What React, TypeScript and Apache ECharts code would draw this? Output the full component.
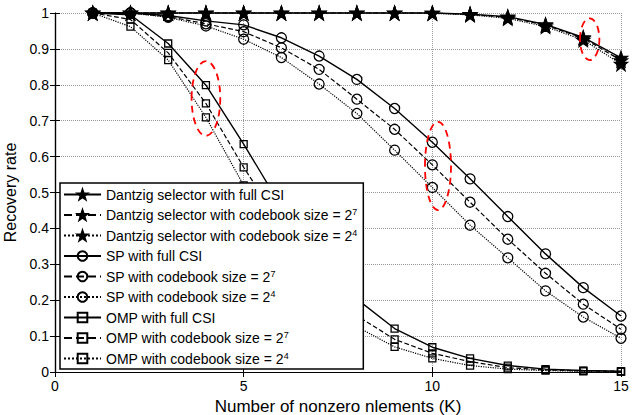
import React, { useEffect, useRef } from "react";
import * as echarts from "echarts";

const FONT = "'Liberation Sans', Arial, Helvetica, sans-serif";

const kValues = [1, 2, 3, 4, 5, 6, 7, 8, 9, 10, 11, 12, 13, 14, 15];

const dsFull = [1, 1, 1, 1, 1, 1, 1, 1, 1, 1, 0.997, 0.99, 0.968, 0.932, 0.875];
const ds7 = [1, 1, 1, 1, 1, 1, 1, 1, 1, 1, 0.996, 0.988, 0.966, 0.93, 0.868];
const ds4 = [1, 1, 1, 1, 1, 1, 1, 1, 1, 0.999, 0.995, 0.985, 0.962, 0.925, 0.858];

const spFull = [1, 1, 0.993, 0.978, 0.967, 0.931, 0.88, 0.815, 0.734, 0.64, 0.538, 0.433, 0.329, 0.235, 0.156];
const sp7 = [1, 1, 0.99, 0.97, 0.948, 0.903, 0.843, 0.76, 0.676, 0.577, 0.473, 0.37, 0.275, 0.189, 0.119];
const sp4 = [1, 1, 0.988, 0.964, 0.927, 0.876, 0.802, 0.72, 0.618, 0.514, 0.409, 0.318, 0.226, 0.153, 0.094];

const ompFull = [1, 0.995, 0.915, 0.799, 0.635, 0.46, 0.31, 0.203, 0.121, 0.069, 0.038, 0.018, 0.008, 0.004, 0.002];
const omp7 = [1, 0.982, 0.889, 0.748, 0.57, 0.41, 0.27, 0.157, 0.091, 0.052, 0.029, 0.012, 0.006, 0.003, 0.002];
const omp4 = [1, 0.962, 0.869, 0.709, 0.52, 0.37, 0.24, 0.126, 0.07, 0.038, 0.018, 0.008, 0.004, 0.002, 0.001];

const seriesNames = [
  "Dantzig selector with full CSI",
  "Dantzig selector with codebook size = 2^7",
  "Dantzig selector with codebook size = 2^4",
  "SP with full CSI",
  "SP with codebook size = 2^7",
  "SP with codebook size = 2^4",
  "OMP with full CSI",
  "OMP with codebook size = 2^7",
  "OMP with codebook size = 2^4",
];
const seriesValues = [dsFull, ds7, ds4, spFull, sp7, sp4, ompFull, omp7, omp4];

// annotation ellipses in data units: centre K, centre rate, radius K, radius rate
const ellipseCx = [4, 10.15, 14.17];
const ellipseCy = [0.762, 0.574, 0.927];
const ellipseRx = [0.38, 0.345, 0.257];
const ellipseRy = [0.104, 0.123, 0.058];

const STAR =
  "path://M0,-10L2.35,-3.24L9.51,-3.09L3.8,1.24L5.88,8.09L0,4L-5.88,8.09L-3.8,1.24L-9.51,-3.09L-2.35,-3.24Z";

const lineTypes = ["solid", "dashed", "dotted"];

function makeSeries(i: number) {
  const group = Math.floor(i / 3);
  const variant = i % 3;
  const symbol = group === 0 ? STAR : group === 1 ? "circle" : "rect";
  const symbolSize = group === 0 ? 13 : group === 1 ? 10 : 7;
  const fill = group === 0 ? "#000" : "rgba(0,0,0,0)";
  return {
    type: "line",
    name: seriesNames[i],
    data: kValues.map((k, j) => [k, seriesValues[i][j]]),
    symbol,
    symbolSize,
    showAllSymbol: true,
    clip: false,
    z: 3,
    itemStyle: { color: fill, borderColor: "#000", borderWidth: 1.3 },
    lineStyle: {
      color: "#000",
      width: variant === 0 ? 1.4 : 1.2,
      type: lineTypes[variant] as any,
    },
    emphasis: { disabled: true },
  };
}

function legendLabel(name: string) {
  const m = name.match(/^(.*)\^(\d)$/);
  if (m) return `{t|${m[1]}}{s|${m[2]}}`;
  return `{t|${name}}`;
}

export default function App() {
  const ref = useRef<HTMLDivElement>(null);
  useEffect(() => {
    if (!ref.current) return;
    const chart = echarts.init(ref.current, undefined, { renderer: "svg" });
    const axisCommon = {
      axisLine: { show: true, lineStyle: { color: "#000", width: 1.2 } },
      axisTick: { show: true, inside: true, length: 5, lineStyle: { color: "#000", width: 1 } },
    };
    chart.setOption({
      animation: false,
      backgroundColor: "#fff",
      textStyle: { fontFamily: FONT },
      grid: { left: 55, right: 12, top: 13, bottom: 43, containLabel: false, outerBoundsMode: "none" },
      xAxis: [
        {
          type: "value",
          min: 0,
          max: 15,
          interval: 5,
          position: "bottom",
          ...axisCommon,
          axisLabel: { fontSize: 14, color: "#000", fontFamily: FONT, margin: 7 },
          splitLine: { show: true, lineStyle: { color: "#9a9a9a", type: "dotted", width: 1 } },
          name: "Number of nonzero nlements (K)",
          nameLocation: "middle",
          nameGap: 18,
          nameTextStyle: { fontSize: 17, color: "#000", fontFamily: FONT, lineHeight: 18 },
        },
        {
          type: "value",
          min: 0,
          max: 15,
          interval: 5,
          position: "top",
          ...axisCommon,
          axisLabel: { show: false },
          splitLine: { show: false },
        },
      ],
      yAxis: [
        {
          type: "value",
          min: 0,
          max: 1,
          interval: 0.1,
          position: "left",
          ...axisCommon,
          axisLabel: { fontSize: 14, color: "#000", fontFamily: FONT, margin: 6 },
          splitLine: { show: true, lineStyle: { color: "#9a9a9a", type: "dotted", width: 1 } },
          name: "Recovery rate",
          nameLocation: "middle",
          nameGap: 32,
          nameRotate: 90,
          nameTextStyle: { fontSize: 16, color: "#000", fontFamily: FONT },
        },
        {
          type: "value",
          min: 0,
          max: 1,
          interval: 0.1,
          position: "right",
          ...axisCommon,
          axisLabel: { show: false },
          splitLine: { show: false },
        },
      ],
      legend: {
        orient: "vertical",
        left: 60,
        top: 183,
        z: 10,
        backgroundColor: "#fff",
        borderColor: "#000",
        borderWidth: 1.5,
        padding: [4, 6, 3, 3],
        itemWidth: 37,
        itemHeight: 12,
        itemGap: 5.5,
        selectedMode: false,
        data: seriesNames,
        formatter: legendLabel,
        textStyle: {
          color: "#000",
          fontFamily: FONT,
          fontSize: 14,
          lineHeight: 15,
          rich: {
            t: { fontSize: 14, lineHeight: 15, color: "#000", fontFamily: FONT },
            s: { fontSize: 9, lineHeight: 9, color: "#000", fontFamily: FONT, padding: [0, 0, 6, 0] },
          },
        },
      },
      series: seriesNames.map((_, i) => makeSeries(i)),
    });

    const graphics = ellipseCx.map((cx, i) => {
      const c = chart.convertToPixel({ gridIndex: 0 }, [cx, ellipseCy[i]]) as number[];
      const e = chart.convertToPixel({ gridIndex: 0 }, [cx + ellipseRx[i], ellipseCy[i] + ellipseRy[i]]) as number[];
      return {
        type: "ellipse",
        z: 5,
        silent: true,
        shape: { cx: c[0], cy: c[1], rx: Math.abs(e[0] - c[0]), ry: Math.abs(e[1] - c[1]) },
        style: { fill: "none", stroke: "#ff0000", lineWidth: 1.8, lineDash: [7, 5] },
      };
    });
    chart.setOption({ graphic: graphics });

    return () => chart.dispose();
  }, []);
  return <div ref={ref} style={{ width: 633, height: 415, position: "absolute", left: 0, top: 0 }} />;
}
